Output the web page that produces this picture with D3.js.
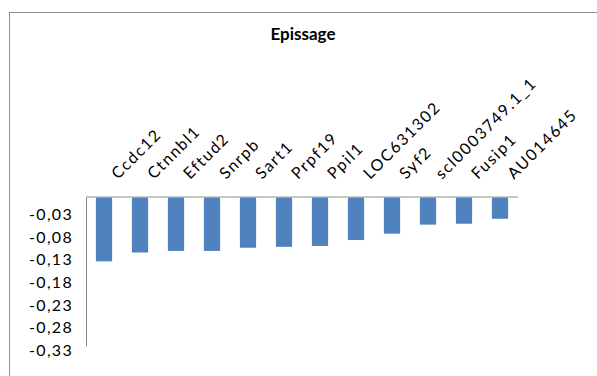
<html>
<head>
<script src="https://d3js.org/d3.v7.min.js"></script>
<style>
  body{margin:0;background:#fff;}
  text{font-family:Lato, "Open Sans", sans-serif;fill:#000;}
  .title{font-size:17px;font-weight:bold;}
  .tick text{font-size:16px;letter-spacing:1.3px;}
  .cat{font-size:16px;letter-spacing:1.6px;}
  .bar{fill:#4f81bd;}
</style>
</head>
<body>
<script>
const mytitle = "Epissage";
const w = 597, h = 376;

const genes = ["Ccdc12","Ctnnbl1","Eftud2","Snrpb","Sart1","Prpf19","Ppil1","LOC631302","Syf2","scl0003749.1_1","Fusip1","AU014645"];
const values = [-0.142,-0.1225,-0.119,-0.119,-0.112,-0.110,-0.108,-0.095,-0.081,-0.061,-0.059,-0.048];
const yTicks = [-0.03,-0.08,-0.13,-0.18,-0.23,-0.28,-0.33];

// plot area
const plot = {left:86, right:518, top:197, bottom:346.5};

const xScale = d3.scaleBand()
  .domain(genes)
  .range([plot.left, plot.right])
  .paddingInner(0.55)
  .paddingOuter(0.275);

const yScale = d3.scaleLinear()
  .domain([-0.33, 0])
  .range([plot.bottom, plot.top]);

const svg = d3.select("body").append("svg")
  .attr("width", w)
  .attr("height", h);

// chart frame (cropped at right/bottom)
svg.append("rect")
  .attr("x", 9.5).attr("y", 12.5)
  .attr("width", 620).attr("height", 400)
  .attr("fill", "none")
  .attr("stroke", "#8f8f8f");

svg.append("text")
  .attr("class","title")
  .attr("x", 303).attr("y", 39.5)
  .attr("text-anchor","middle")
  .text(mytitle);

// bars hang from zero
svg.append("g").selectAll("rect")
  .data(values)
  .join("rect")
  .attr("class","bar")
  .attr("x", (d,i) => xScale(genes[i]))
  .attr("width", xScale.bandwidth())
  .attr("y", yScale(0))
  .attr("height", d => yScale(d) - yScale(0));

// y axis
const yAxis = d3.axisLeft(yScale)
  .tickValues(yTicks)
  .tickSize(0)
  .tickPadding(13)
  .tickFormat(d => d3.format(".2f")(d).replace("−","-").replace(".",","));

const gy = svg.append("g")
  .attr("transform","translate("+plot.left+",0)")
  .call(yAxis);
gy.select(".domain").attr("stroke","#868686").attr("d","M0.5,"+plot.top+"V"+plot.bottom);
gy.selectAll(".tick text").attr("dy","0.55em").attr("fill","#000");

// x axis line at zero
svg.append("line")
  .attr("x1", plot.left).attr("x2", plot.right)
  .attr("y1", yScale(0)).attr("y2", yScale(0))
  .attr("stroke","#b4b4b4")
  .attr("stroke-width",1.5);

// category labels, rotated
svg.append("g").selectAll("text")
  .data(genes)
  .join("text")
  .attr("class","cat")
  .attr("transform", d => "translate(" + (xScale(d) + xScale.bandwidth()/2 + 14) + ",180) rotate(-45)")
  .text(d => d);
</script>
</body>
</html>
